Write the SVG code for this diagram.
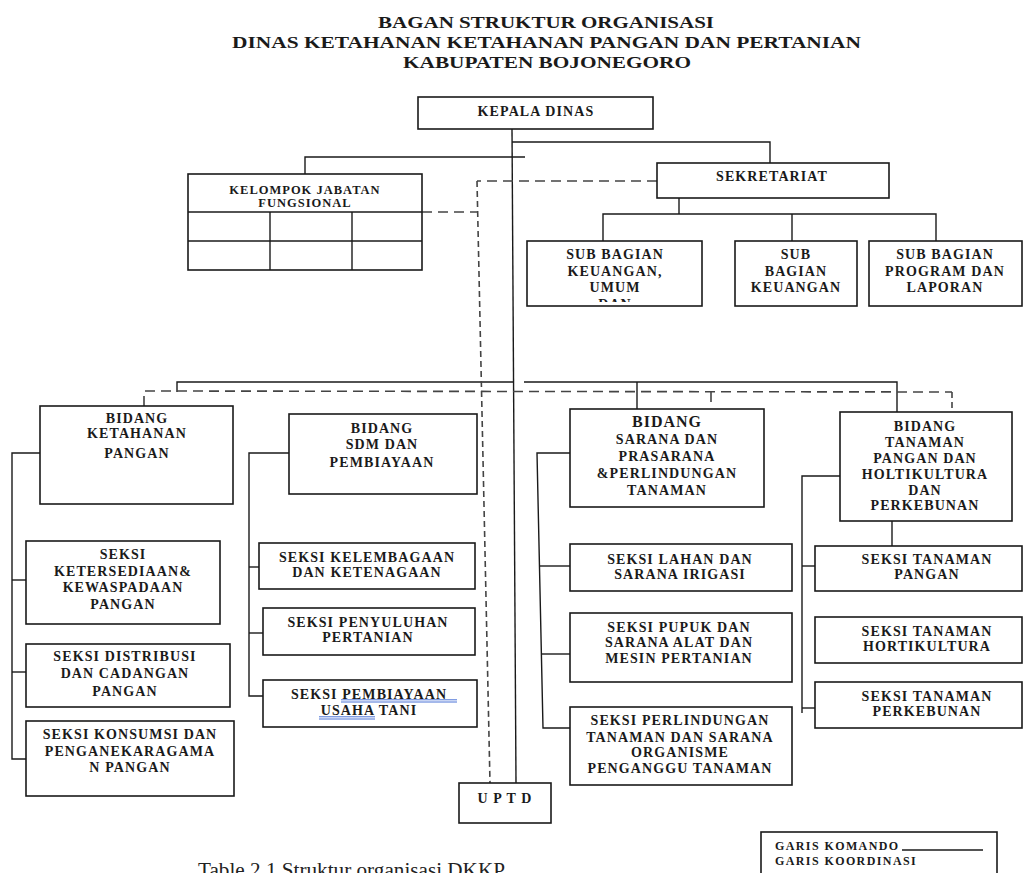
<svg xmlns="http://www.w3.org/2000/svg" width="1024" height="873" viewBox="0 0 1024 873">
<style>
.box{fill:#fff;stroke:#1a1a1a;stroke-width:1.6}
.t{font-family:"Liberation Serif","Times New Roman",serif;font-weight:bold;font-size:14px;letter-spacing:1.1px;fill:#1a1a1a;text-anchor:middle}
.s12{font-size:12.5px;letter-spacing:1px}
.s15{font-size:16px;letter-spacing:1px}
.ttl{font-family:"Liberation Serif","Times New Roman",serif;font-weight:bold;font-size:16px;fill:#1a1a1a;text-anchor:middle}
.leg{font-family:"Liberation Serif","Times New Roman",serif;font-weight:bold;font-size:12px;letter-spacing:1.4px;fill:#1a1a1a}
.cmd{stroke:#1a1a1a;stroke-width:1.4;fill:none}
.crd{stroke:#444;stroke-width:1.6;fill:none;stroke-dasharray:10 6}
.crdv{stroke-dasharray:6 4}
.ul{stroke:#4a72d6;stroke-width:1}
</style>
<defs>
<clipPath id="clipSub1"><rect x="528" y="242" width="173" height="60"/></clipPath>
</defs>
<rect width="1024" height="873" fill="#fff"/>

<g id="title">
<text class="ttl" x="546" y="28" textLength="336" lengthAdjust="spacingAndGlyphs">BAGAN STRUKTUR ORGANISASI</text>
<text class="ttl" x="546.5" y="48" textLength="629" lengthAdjust="spacingAndGlyphs">DINAS KETAHANAN KETAHANAN PANGAN DAN PERTANIAN</text>
<text class="ttl" x="547" y="68" textLength="288" lengthAdjust="spacingAndGlyphs">KABUPATEN BOJONEGORO</text>
</g>

<g id="connectors">
<!-- komando -->
<polyline class="cmd" points="512,129 516,783"/>
<polyline class="cmd" points="512,142 770,142 770,163"/>
<polyline class="cmd" points="305,174 305,157 525,157"/>
<polyline class="cmd" points="679,198 679,214"/>
<polyline class="cmd" points="603,241 603,214 936,214 936,241"/>
<polyline class="cmd" points="792,214 792,241"/>
<polyline class="cmd" points="177,392 177,382 514,382"/>
<polyline class="cmd" points="524,382 897,382 897,412"/>
<polyline class="cmd" points="637,382 637,409"/>
<polyline class="cmd" points="40,453 12,453 12,759 26,759"/>
<polyline class="cmd" points="12,580 26,580"/>
<polyline class="cmd" points="12,672 26,672"/>
<polyline class="cmd" points="289,453 249,453 249,696 263,696"/>
<polyline class="cmd" points="249,567 259,567"/>
<polyline class="cmd" points="249,633 263,633"/>
<polyline class="cmd" points="570,453 537,453 543,728 570,728"/>
<polyline class="cmd" points="540,566 570,566"/>
<polyline class="cmd" points="541.5,654 570,654"/>
<polyline class="cmd" points="840,476 802,476 802,713"/>
<polyline class="cmd" points="802,566 815,566"/>
<polyline class="cmd" points="802,708 815,708"/>
<polyline class="cmd" points="892,521 892,546"/>
<!-- koordinasi -->
<polyline class="crd" points="657,181 477,181"/>
<polyline class="crd crdv" points="477,181 490,783"/>
<polyline class="crd" points="422,212 477,212"/>
<polyline class="crd" points="144,406 144,391 952,392"/>
<polyline class="crd crdv" points="952,392 952,412"/>
<polyline class="crd" points="711,392 711,402" style="stroke-dasharray:none"/>
</g>

<g id="kepala-dinas">
<rect class="box" x="418" y="97" width="235" height="32"/>
<text class="t" x="536" y="116">KEPALA DINAS</text>
</g>

<g id="sekretariat">
<rect class="box" x="657" y="163" width="232" height="35"/>
<text class="t" x="772" y="181">SEKRETARIAT</text>
</g>

<g id="kelompok-jabatan-fungsional">
<rect class="box" x="188" y="174" width="234" height="96"/>
<line class="cmd" x1="188" y1="212" x2="422" y2="212"/>
<line class="cmd" x1="188" y1="241" x2="422" y2="241"/>
<line class="cmd" x1="270" y1="212" x2="270" y2="270"/>
<line class="cmd" x1="352" y1="212" x2="352" y2="270"/>
<text class="t s12" x="305" y="193.8">KELOMPOK JABATAN</text>
<text class="t s12" x="305" y="207.3">FUNGSIONAL</text>
</g>

<g id="sub-bagian-keuangan-umum">
<rect class="box" x="527" y="241" width="175" height="65"/>
<g clip-path="url(#clipSub1)">
<text class="t" x="615"><tspan x="615" y="259">SUB BAGIAN</tspan><tspan x="615" y="275.5">KEUANGAN,</tspan><tspan x="615" y="292.2">UMUM</tspan><tspan x="615" y="309">DAN</tspan></text>
</g>
</g>

<g id="sub-bagian-keuangan">
<rect class="box" x="735" y="241" width="122" height="65"/>
<text class="t" x="796"><tspan x="796" y="259">SUB</tspan><tspan x="796" y="275.5">BAGIAN</tspan><tspan x="796" y="292.2">KEUANGAN</tspan></text>
</g>

<g id="sub-bagian-program">
<rect class="box" x="869" y="241" width="153" height="65"/>
<text class="t" x="945"><tspan x="945" y="259">SUB BAGIAN</tspan><tspan x="945" y="275.5">PROGRAM DAN</tspan><tspan x="945" y="292.2">LAPORAN</tspan></text>
</g>

<g id="bidang-ketahanan-pangan">
<rect class="box" x="40" y="406" width="193" height="98"/>
<text class="t" x="137"><tspan x="137" y="423">BIDANG</tspan><tspan x="137" y="438">KETAHANAN</tspan><tspan x="137" y="457.5">PANGAN</tspan></text>
</g>

<g id="bidang-sdm">
<rect class="box" x="289" y="414" width="188" height="80"/>
<text class="t" x="382"><tspan x="382" y="433.3">BIDANG</tspan><tspan x="382" y="449.3">SDM DAN</tspan><tspan x="382" y="466.7">PEMBIAYAAN</tspan></text>
</g>

<g id="bidang-sarana">
<rect class="box" x="570" y="409" width="194" height="98"/>
<text class="t s15" x="667" y="426.8">BIDANG</text>
<text class="t" x="667"><tspan x="667" y="444">SARANA DAN</tspan><tspan x="667" y="460.7">PRASARANA</tspan><tspan x="667" y="478.3">&amp;PERLINDUNGAN</tspan><tspan x="667" y="495">TANAMAN</tspan></text>
</g>

<g id="bidang-tanaman">
<rect class="box" x="840" y="412" width="172" height="109"/>
<text class="t" x="925"><tspan x="925" y="431">BIDANG</tspan><tspan x="925" y="447.3">TANAMAN</tspan><tspan x="925" y="462.7">PANGAN DAN</tspan><tspan x="925" y="479.3">HOLTIKULTURA</tspan><tspan x="925" y="495">DAN</tspan><tspan x="925" y="510">PERKEBUNAN</tspan></text>
</g>

<g id="seksi-ketersediaan">
<rect class="box" x="26" y="541" width="194" height="83"/>
<text class="t" x="123"><tspan x="123" y="559.3">SEKSI</tspan><tspan x="123" y="575.7">KETERSEDIAAN&amp;</tspan><tspan x="123" y="592.3">KEWASPADAAN</tspan><tspan x="123" y="609.3">PANGAN</tspan></text>
</g>

<g id="seksi-distribusi">
<rect class="box" x="26" y="644" width="204" height="63"/>
<text class="t" x="125"><tspan x="125" y="661">SEKSI DISTRIBUSI</tspan><tspan x="125" y="677.7">DAN CADANGAN</tspan><tspan x="125" y="695.7">PANGAN</tspan></text>
</g>

<g id="seksi-konsumsi">
<rect class="box" x="26" y="721" width="208" height="75"/>
<text class="t" x="130"><tspan x="130" y="739">SEKSI KONSUMSI DAN</tspan><tspan x="130" y="755.7">PENGANEKARAGAMA</tspan><tspan x="130" y="771.7">N PANGAN</tspan></text>
</g>

<g id="seksi-kelembagaan">
<rect class="box" x="259" y="543" width="216" height="46"/>
<text class="t" x="367"><tspan x="367" y="561.7">SEKSI KELEMBAGAAN</tspan><tspan x="367" y="576.7">DAN KETENAGAAN</tspan></text>
</g>

<g id="seksi-penyuluhan">
<rect class="box" x="263" y="608" width="212" height="47"/>
<text class="t" x="368"><tspan x="368" y="627.3">SEKSI PENYULUHAN</tspan><tspan x="368" y="641.7">PERTANIAN</tspan></text>
</g>

<g id="seksi-pembiayaan">
<rect class="box" x="263" y="680" width="214" height="47"/>
<text class="t" x="369"><tspan x="369" y="699">SEKSI PEMBIAYAAN</tspan><tspan x="369" y="715">USAHA TANI</tspan></text>
<line class="ul" x1="341" y1="699.8" x2="457" y2="699.8"/>
<line class="ul" x1="341" y1="702" x2="457" y2="702"/>
<line class="ul" x1="319" y1="716.8" x2="375" y2="716.8"/>
<line class="ul" x1="319" y1="719" x2="375" y2="719"/>
</g>

<g id="seksi-lahan">
<rect class="box" x="570" y="544" width="222" height="47"/>
<text class="t" x="680"><tspan x="680" y="563.7">SEKSI LAHAN DAN</tspan><tspan x="680" y="579">SARANA IRIGASI</tspan></text>
</g>

<g id="seksi-pupuk">
<rect class="box" x="570" y="613" width="222" height="69"/>
<text class="t" x="679"><tspan x="679" y="631.7">SEKSI PUPUK DAN</tspan><tspan x="679" y="647.3">SARANA ALAT DAN</tspan><tspan x="679" y="663.3">MESIN PERTANIAN</tspan></text>
</g>

<g id="seksi-perlindungan">
<rect class="box" x="570" y="707" width="222" height="78"/>
<text class="t" x="680"><tspan x="680" y="725">SEKSI PERLINDUNGAN</tspan><tspan x="680" y="741.7">TANAMAN DAN SARANA</tspan><tspan x="680" y="756.7">ORGANISME</tspan><tspan x="680" y="772.7">PENGANGGU TANAMAN</tspan></text>
</g>

<g id="seksi-tanaman-pangan">
<rect class="box" x="815" y="546" width="207" height="45"/>
<text class="t" x="927"><tspan x="927" y="564">SEKSI TANAMAN</tspan><tspan x="927" y="579">PANGAN</tspan></text>
</g>

<g id="seksi-tanaman-hortikultura">
<rect class="box" x="815" y="617" width="207" height="46"/>
<text class="t" x="927"><tspan x="927" y="636">SEKSI TANAMAN</tspan><tspan x="927" y="651">HORTIKULTURA</tspan></text>
</g>

<g id="seksi-tanaman-perkebunan">
<rect class="box" x="815" y="682" width="207" height="46"/>
<text class="t" x="927"><tspan x="927" y="701">SEKSI TANAMAN</tspan><tspan x="927" y="716">PERKEBUNAN</tspan></text>
</g>

<g id="uptd">
<rect class="box" x="459" y="783" width="92" height="40"/>
<text class="t" x="505" y="803.3">U P T D</text>
</g>

<g id="legend">
<rect class="box" x="761" y="832" width="236" height="55"/>
<text class="leg" x="775" y="850">GARIS KOMANDO</text>
<line class="cmd" x1="902" y1="850" x2="983" y2="850"/>
<text class="leg" x="775" y="864.7">GARIS KOORDINASI</text>
</g>

<g id="caption">
<text x="198" y="877" font-family="'Liberation Serif','Times New Roman',serif" font-size="20" fill="#222" textLength="307" lengthAdjust="spacingAndGlyphs">Table 2.1 Struktur organisasi DKKP</text>
</g>
</svg>
